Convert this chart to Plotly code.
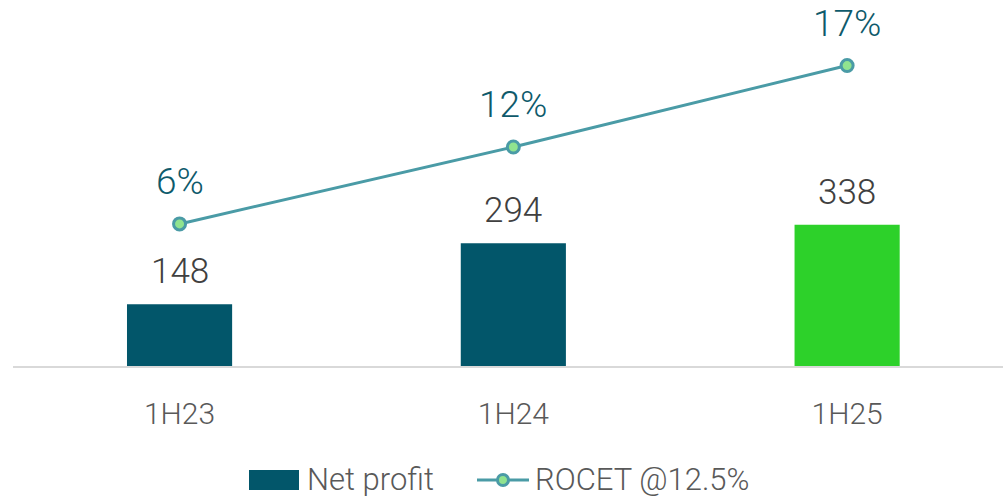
import plotly.graph_objects as go

categories = ["1H23", "1H24", "1H25"]
net_profit = [148, 294, 338]
rocet = [6.4, 11.6, 17.1]
bar_colors = ["#02566A", "#02566A", "#2DD12A"]

FONT = "Roboto"
WEIGHT = 300
L, R, T, B = 13, 0, 0, 131
W, H = 1003, 497
pw, ph = W - L - R, H - T - B

def px_x(p):
    return (p - L) / pw

def px_y(p):
    return (H - B - p) / ph

fig = go.Figure()
fig.add_trace(go.Bar(
    x=categories, y=net_profit, marker=dict(color=bar_colors, line=dict(width=0)),
    width=0.315, name="Net profit", showlegend=False, hoverinfo="skip",
))
fig.add_trace(go.Scatter(
    x=categories, y=rocet, yaxis="y2", mode="lines+markers", name="ROCET @12.5%",
    line=dict(color="#4A9BA6", width=3),
    marker=dict(size=12, color="#90E38F", line=dict(color="#4A9BA6", width=3)),
    showlegend=False, hoverinfo="skip",
))

annotations = []
for c, v in zip(categories, net_profit):
    annotations.append(dict(x=c, y=v, xref="x", yref="y", text=str(v), showarrow=False,
                            yanchor="bottom", yshift=10,
                            font=dict(family=FONT, size=35, color="#404040", weight=WEIGHT)))
for c, v in zip(categories, rocet):
    annotations.append(dict(x=c, y=v, xref="x", yref="y2", text=f"{v:.0f}%", showarrow=False,
                            yanchor="bottom", yshift=19,
                            font=dict(family=FONT, size=37, color="#0E5A6B", weight=WEIGHT)))

# custom legend
annotations.append(dict(x=px_x(305), y=px_y(479), xref="paper", yref="paper", text="Net profit",
                        showarrow=False, xanchor="left", yanchor="middle",
                        font=dict(family=FONT, size=31, color="#595959", weight=WEIGHT)))
annotations.append(dict(x=px_x(533), y=px_y(479), xref="paper", yref="paper", text="ROCET @12.5%",
                        showarrow=False, xanchor="left", yanchor="middle",
                        font=dict(family=FONT, size=31, color="#595959", weight=WEIGHT)))
shapes = [
    dict(type="rect", xref="paper", yref="paper", x0=px_x(249), x1=px_x(299),
         y0=px_y(490), y1=px_y(470), fillcolor="#02566A", line=dict(width=0)),
    dict(type="line", xref="paper", yref="paper", x0=px_x(477), x1=px_x(529),
         y0=px_y(480), y1=px_y(480), line=dict(color="#4A9BA6", width=3)),
    dict(type="circle", xref="paper", yref="paper", xsizemode="pixel", ysizemode="pixel",
         xanchor=px_x(503), yanchor=px_y(480), x0=-5.5, x1=5.5, y0=-5.5, y1=5.5,
         fillcolor="#90E38F", line=dict(color="#4A9BA6", width=3)),
]

fig.update_layout(
    width=W, height=H, margin=dict(l=L, r=R, t=T, b=B, pad=0),
    paper_bgcolor="white", plot_bgcolor="white",
    showlegend=False, annotations=annotations, shapes=shapes,
    xaxis=dict(type="category", range=[-0.499, 2.467], showgrid=False, zeroline=False,
               showline=True, linecolor="#D9D9D9", linewidth=2,
               ticks="", ticklabelstandoff=20,
               tickfont=dict(family=FONT, size=30, color="#595959", weight=WEIGHT)),
    yaxis=dict(range=[0, 876], visible=False, showgrid=False, zeroline=False),
    yaxis2=dict(range=[-3.2, 21.53], overlaying="y", visible=False, showgrid=False, zeroline=False),
)

fig.write_html("out.html", config={"displayModeBar": False},
               post_script="document.body.style.margin='0px';document.body.style.overflow='hidden';")
